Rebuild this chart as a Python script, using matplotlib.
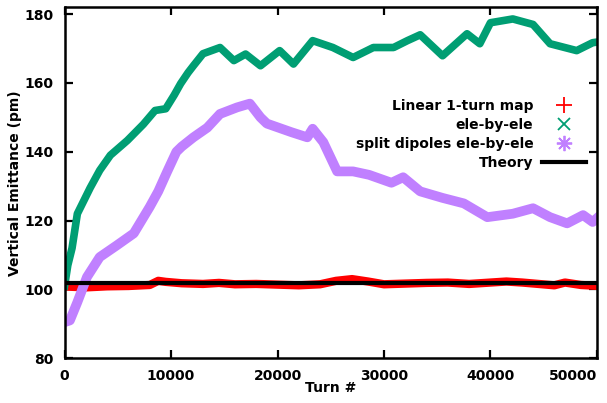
import matplotlib
matplotlib.use("Agg")
import matplotlib.pyplot as plt
from matplotlib.lines import Line2D

# values
turns_lin = [400, 2000, 4000, 6000, 8000, 8800, 9500, 11000, 13000, 14500, 16000,
             18000, 20000, 22000, 24000, 25500, 27000, 28500, 30000, 32000, 34000,
             36000, 38000, 40000, 41500, 43000, 44500, 46000, 47000, 48500, 50300]
emit_lin = [100.8, 100.6, 100.9, 101.0, 101.3, 102.5, 102.2, 101.8, 101.6, 101.9, 101.5,
            101.6, 101.4, 101.2, 101.5, 102.5, 103.0, 102.3, 101.5, 101.7, 101.9,
            102.0, 101.6, 102.0, 102.3, 102.0, 101.6, 101.2, 102.0, 101.3, 101.0]

turns_ele = [0, 300, 700, 1200, 2400, 3300, 4300, 5900, 7400, 8500, 9500, 10300, 10900,
             11600, 12100, 13000, 14600, 15900, 17000, 18400, 20200, 21500, 23300,
             25200, 27100, 29000, 30900, 32200, 33400, 35500, 37800, 39000, 40000,
             42100, 44000, 45600, 48100, 49600, 50300]
emit_ele = [101, 107, 112, 122, 129.5, 134.6, 139, 143.3, 148, 152, 152.5, 156.5, 159.8,
            163, 165, 168.5, 170.3, 166.5, 168.4, 165, 169.4, 165.5, 172.3,
            170.3, 167.4, 170.3, 170.3, 172.3, 174, 167.9, 174.3, 171.4, 177.5,
            178.6, 177, 171.4, 169.4, 171.7, 172]

turns_split = [0, 500, 1200, 2100, 3300, 4900, 6500, 8000, 8800, 9600, 10500, 11000,
               12100, 13400, 14600, 16200, 17400, 18400, 19000, 21300, 22800, 23300,
               24300, 25600, 27100, 28600, 30700, 31800, 33400, 35500, 37500, 39700,
               42100, 44000, 45600, 47200, 48700, 49600, 50300]
emit_split = [90.5, 91, 96.3, 103.6, 109.4, 112.8, 116.3, 124, 128.5, 134, 140, 141.5,
              144.2, 147, 151, 152.9, 154, 150, 148.2, 145.7, 144.2, 146.7,
              142.8, 134.3, 134.3, 133.3, 131, 132.6, 128.5, 126.6, 125, 121,
              122, 123.6, 121, 119.2, 121.6, 119.6, 121.5]

theory = 101.9

red = "#ff0000"
green = "#009e73"
purple = "#c080ff"

plt.rcParams["font.family"] = "DejaVu Sans"
plt.rcParams["font.weight"] = "bold"

fig = plt.figure(figsize=(6.07, 4.03), dpi=100)
ax = fig.add_axes([0.1064, 0.111, 0.877, 0.871])

ax.plot(turns_lin, emit_lin, color=red, lw=6, solid_joinstyle="round")
ax.plot(turns_ele, emit_ele, color=green, lw=5.5, solid_joinstyle="round")
ax.plot(turns_split, emit_split, color=purple, lw=7, solid_joinstyle="round")
ax.axhline(theory, color="black", lw=3)

ax.set_xlim(0, 50000)
ax.set_ylim(80, 182)
ax.set_xticks(range(0, 50001, 10000))
ax.set_yticks(range(80, 181, 20))
ax.tick_params(direction="in", length=6, width=1.6, top=True, right=True,
               labelsize=10, pad=8)
ax.get_xticklabels()[-1].set_horizontalalignment("right")
for s in ax.spines.values():
    s.set_linewidth(1.8)
ax.set_xlabel("Turn #", fontsize=10, fontweight="bold", labelpad=-2)
ax.set_ylabel("Vertical Emittance (pm)", fontsize=10, fontweight="bold", labelpad=2)

handles = [
    Line2D([], [], color=red, marker="+", ms=11, mew=1.3, ls="none"),
    Line2D([], [], color=green, marker="x", ms=9, mew=1.3, ls="none"),
    Line2D([], [], color=purple, marker=(8, 2, 0), ms=11, mew=1.3, ls="none"),
    Line2D([], [], color="black", lw=3),
]
labels = ["Linear 1-turn map", "ele-by-ele", "split dipoles ele-by-ele", "Theory"]
leg = ax.legend(handles, labels, loc="upper right", bbox_to_anchor=(0.98, 0.739),
                frameon=False, markerfirst=False, fontsize=10, handlelength=3.2,
                handletextpad=0.6, labelspacing=0.36, borderpad=0, borderaxespad=0)
for col in leg._legend_box.get_children()[1].get_children():
    col.align = "right"

fig.savefig("out.png", dpi=100)
